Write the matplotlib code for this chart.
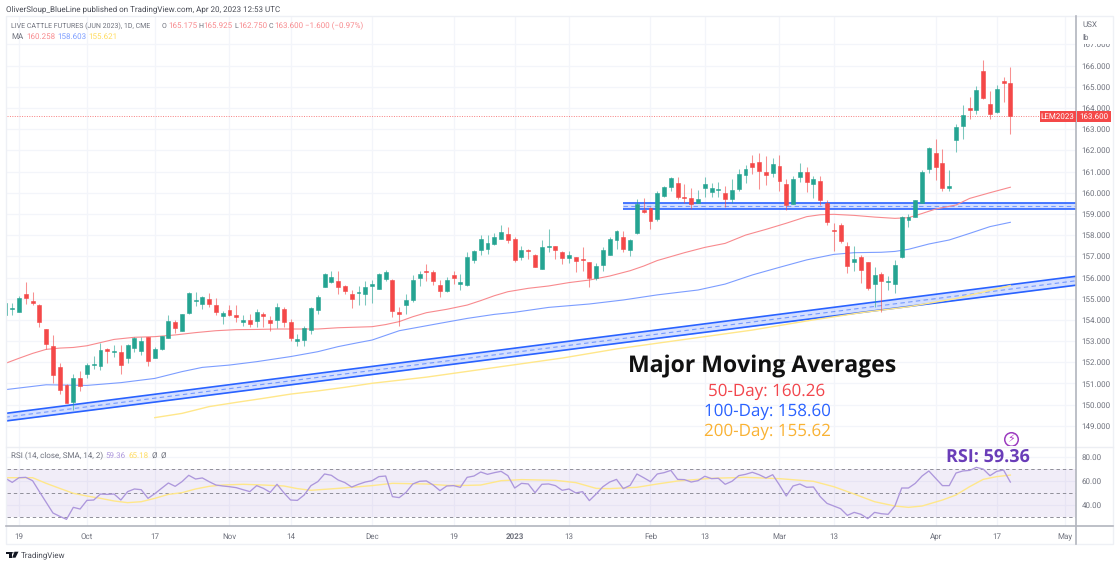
import matplotlib
matplotlib.use('Agg')
import matplotlib.pyplot as plt
import numpy as np
from matplotlib.patches import Polygon, Rectangle, Circle

W, H = 1120, 566

UP = '#25a492'
DOWN = '#f44848'
BLUE = '#2962ff'
GRID = '#f3f5fa'
AXIS = '#b2b5be'
MUTED = '#6f727d'
MA_RED = '#f88a8e'
MA_BLUE = '#7c9dff'
MA_YELLOW = '#ffe78a'
RSI_PURPLE = '#ad97dc'

# Daily candles, index 0 is 19 Sep 2022.
opens = [
    154.23, 154.53, 154.39, 155.22, 154.89, 154.69, 153.59, 152.78, 151.76, 150.91,
    150.14, 151.26, 151.46, 151.87, 151.84, 152.64, 152.47, 152.49, 152.20, 152.69,
    152.53, 153.19, 152.20, 152.61, 153.16, 153.88, 153.48, 154.31, 154.91, 154.77,
    154.99, 154.72, 154.18, 154.45, 154.23, 153.90, 153.98, 153.95, 154.29, 153.99,
    153.98, 154.50, 153.90, 153.00, 153.07, 153.54, 154.47, 155.57, 155.77, 155.85,
    155.60, 155.20, 155.27, 155.20, 155.60, 155.46, 155.91, 155.88, 154.36, 154.72,
    154.94, 155.98, 156.32, 156.24, 155.63, 155.38, 156.10, 155.71, 155.63, 156.84,
    157.28, 157.35, 157.58, 157.83, 158.05, 157.80, 156.95, 157.28, 157.08, 156.42,
    157.44, 157.49, 157.20, 156.91, 156.95, 156.89, 156.72, 155.99, 156.57, 157.08,
    157.77, 157.90, 157.31, 158.08, 159.18, 159.30, 158.74, 159.86, 160.28, 160.47,
    159.78, 159.75, 159.51, 160.22, 160.02, 160.14, 159.97, 159.70, 160.16, 160.84,
    161.40, 161.45, 160.98, 160.93, 161.26, 160.40, 159.47, 160.76, 160.98, 160.43,
    160.55, 159.50, 158.26, 158.46, 157.49, 156.75, 156.98, 156.73, 155.71, 156.15,
    155.77, 155.71, 156.95, 158.71, 158.87, 159.53, 161.13, 161.85, 161.38, 160.23,
    162.48, 163.16, 163.98, 163.91, 165.74, 164.17, 163.80, 165.25, 165.175,
]
highs = [
    154.78, 154.81, 155.14, 155.77, 155.32, 154.75, 153.59, 153.29, 151.98, 150.98,
    151.43, 151.57, 151.95, 152.30, 152.89, 152.69, 152.83, 152.82, 152.86, 153.21,
    153.18, 153.21, 152.74, 153.26, 154.23, 153.99, 154.26, 155.33, 155.32, 155.13,
    155.28, 155.03, 154.43, 154.69, 154.72, 154.25, 154.26, 154.50, 154.39, 154.18,
    154.78, 154.59, 154.03, 153.33, 153.71, 154.61, 155.17, 156.20, 156.32, 156.29,
    155.65, 155.41, 155.60, 155.83, 155.88, 156.23, 156.35, 155.95, 154.61, 155.22,
    156.13, 156.29, 156.62, 156.35, 155.88, 156.04, 156.32, 156.17, 157.20, 157.30,
    157.99, 157.99, 158.08, 158.46, 158.40, 157.90, 157.50, 157.33, 157.11, 157.77,
    158.30, 157.50, 157.27, 157.24, 156.97, 157.42, 156.75, 156.67, 157.42, 157.93,
    158.24, 158.19, 157.80, 159.69, 159.74, 159.34, 160.07, 160.33, 160.72, 160.74,
    160.40, 160.21, 160.13, 160.76, 160.44, 160.49, 160.32, 160.65, 161.13, 161.31,
    161.78, 161.86, 161.73, 161.62, 161.78, 160.63, 160.79, 161.40, 161.20, 160.79,
    160.80, 159.66, 158.55, 158.55, 157.66, 157.49, 157.06, 156.75, 156.51, 156.24,
    156.07, 156.82, 158.90, 158.99, 159.65, 161.07, 162.17, 162.53, 162.04, 161.07,
    163.22, 164.12, 164.50, 165.03, 166.26, 164.81, 165.06, 165.44, 165.925,
]
lows = [
    154.23, 154.25, 154.36, 154.75, 154.69, 153.66, 152.61, 151.02, 150.52, 150.06,
    149.75, 150.65, 151.26, 151.67, 151.64, 151.98, 152.26, 151.43, 151.95, 152.49,
    152.34, 151.84, 152.20, 152.56, 153.13, 153.37, 153.48, 154.28, 154.66, 154.53,
    154.62, 154.23, 153.81, 154.18, 153.90, 153.73, 153.68, 153.68, 153.65, 153.49,
    153.60, 153.68, 153.02, 152.77, 152.77, 153.33, 154.28, 155.57, 155.72, 155.22,
    155.22, 154.58, 154.72, 154.72, 154.81, 155.44, 155.85, 154.15, 153.73, 154.30,
    154.83, 155.60, 155.85, 155.66, 155.08, 155.32, 155.69, 155.43, 155.60, 156.70,
    157.08, 157.13, 157.55, 157.80, 157.61, 156.75, 156.81, 156.87, 156.48, 156.40,
    157.19, 156.86, 156.64, 156.67, 156.24, 156.32, 155.57, 155.90, 156.32, 157.08,
    157.36, 157.22, 157.02, 158.07, 159.03, 158.27, 158.68, 159.81, 160.10, 159.69,
    159.50, 159.25, 159.50, 159.81, 159.78, 159.78, 159.31, 159.50, 160.10, 160.47,
    160.88, 160.19, 160.35, 160.76, 160.10, 159.18, 159.47, 160.50, 160.05, 159.75,
    159.42, 158.48, 157.25, 157.61, 156.20, 156.29, 155.72, 155.41, 154.62, 154.39,
    155.41, 155.28, 156.93, 158.40, 158.84, 159.50, 160.91, 160.60, 160.09, 160.09,
    161.92, 162.55, 163.46, 163.71, 164.40, 163.46, 163.77, 164.26, 162.75,
]
closes = [
    154.78, 154.56, 155.03, 155.05, 154.81, 153.92, 152.88, 151.38, 150.69, 150.06,
    151.24, 150.90, 151.89, 151.90, 152.56, 152.53, 152.55, 151.87, 152.82, 153.16,
    153.02, 152.06, 152.63, 153.22, 153.96, 153.63, 154.26, 155.28, 154.94, 155.08,
    154.73, 154.39, 154.34, 154.25, 154.15, 153.99, 153.81, 154.39, 154.17, 153.87,
    154.61, 153.90, 153.15, 153.08, 153.60, 154.58, 155.10, 156.16, 156.01, 155.57,
    155.38, 155.00, 155.30, 155.54, 155.68, 156.17, 156.24, 154.44, 154.30, 154.92,
    155.90, 156.17, 156.26, 155.85, 155.38, 155.90, 155.98, 155.80, 156.95, 157.27,
    157.83, 157.64, 157.91, 158.13, 157.79, 156.81, 157.31, 157.25, 156.51, 157.44,
    157.49, 157.28, 156.91, 157.05, 156.78, 156.84, 155.96, 156.54, 157.30, 157.83,
    158.19, 157.35, 157.77, 159.47, 159.11, 158.68, 159.97, 160.28, 160.69, 159.78,
    159.75, 159.48, 159.72, 160.41, 160.21, 160.17, 159.69, 160.13, 160.87, 161.10,
    161.23, 161.04, 160.85, 161.35, 160.57, 159.42, 160.65, 160.98, 160.52, 160.63,
    159.66, 158.63, 158.18, 157.72, 156.54, 156.87, 156.35, 155.49, 156.13, 155.85,
    155.83, 156.57, 158.87, 158.87, 159.64, 160.97, 162.11, 161.21, 160.20, 160.30,
    163.08, 163.68, 163.91, 164.83, 164.45, 163.71, 164.87, 165.19, 163.60,
]

ma50_idx = [-2, 0, 2, 4, 6, 8, 10, 12, 14, 17, 20, 23, 26, 29, 32, 35, 38, 41, 44, 47, 50, 52, 54, 56, 58, 60,
            63, 66, 68, 70, 72, 75, 78, 81, 84, 87, 90, 92, 94, 98, 101, 104, 107, 110, 113, 116, 118, 120, 123,
            126, 129, 131, 133, 135, 138, 140, 143, 146]
ma50 = [151.95, 152.19, 152.42, 152.61, 152.67, 152.70, 152.78, 152.93, 153.08, 153.18, 153.21, 153.29, 153.40,
        153.49, 153.54, 153.55, 153.57, 153.57, 153.57, 153.63, 153.66, 153.68, 153.78, 153.92, 154.15, 154.34,
        154.50, 154.70, 154.91, 155.14, 155.33, 155.49, 155.60, 155.76, 155.88, 156.07, 156.32, 156.54, 156.80,
        157.17, 157.42, 157.61, 158.00, 158.27, 158.56, 158.87, 158.96, 158.98, 158.93, 158.85, 158.79, 158.82,
        159.02, 159.23, 159.42, 159.73, 160.00, 160.258]

ma100_idx = [-2, 4, 10, 15, 20, 24, 27, 31, 35, 40, 44, 47, 50, 52, 56, 62, 66, 70, 73, 78, 84, 89, 94, 100, 104,
             108, 112, 116, 120, 123, 127, 129, 131, 134, 137, 140, 143, 146]
ma100 = [150.71, 150.94, 150.91, 151.04, 151.24, 151.56, 151.76, 151.87, 152.03, 152.27, 152.50, 152.74, 152.93,
         153.05, 153.49, 153.84, 154.07, 154.26, 154.36, 154.59, 154.75, 154.94, 155.18, 155.41, 155.69, 156.12,
         156.48, 156.83, 157.09, 157.17, 157.19, 157.23, 157.33, 157.58, 157.77, 158.08, 158.40, 158.603]

ma200_idx = [20, 24, 28, 32, 36, 40, 44, 48, 52, 60, 70, 80, 88, 94, 108, 116, 124, 131, 138, 146]
ma200 = [149.39, 149.59, 149.91, 150.11, 150.30, 150.50, 150.65, 150.82, 151.01, 151.30, 151.75, 152.20, 152.63,
         152.90, 153.52, 153.95, 154.34, 154.62, 155.01, 155.621]

rsi = [
    62.5, 59.1, 63.0, 63.3, 60.5, 51.4, 42.5, 33.6, 30.8, 28.3, 38.3, 36.9, 44.1, 44.4, 49.4, 49.1, 49.4, 44.4,
    51.4, 53.6, 53.0, 45.8, 49.7, 54.1, 58.6, 55.8, 59.7, 65.0, 61.9, 62.8, 59.7, 56.9, 56.1, 55.5, 54.7, 53.0,
    51.4, 56.4, 54.1, 50.8, 57.5, 50.5, 44.4, 44.1, 48.6, 56.4, 59.7, 66.1, 65.0, 61.1, 58.9, 55.2, 57.5, 59.4,
    60.5, 63.9, 64.4, 47.2, 46.4, 50.8, 57.8, 60.0, 60.3, 56.9, 52.2, 56.1, 56.4, 55.0, 63.3, 64.4, 67.75, 65.8,
    67.2, 68.3, 64.7, 54.4, 58.3, 57.8, 50.5, 57.5, 57.8, 56.4, 52.5, 53.6, 50.3, 51.4, 43.9, 49.4, 55.5, 59.4,
    61.6, 53.9, 56.6, 66.1, 63.0, 59.7, 66.1, 67.2, 69.1, 61.6, 61.4, 59.4, 60.5, 64.2, 62.2, 62.5, 57.5, 60.0,
    64.7, 65.8, 67.5, 65.5, 62.75, 65.5, 56.9, 47.75, 56.1, 57.75, 55.0, 55.25, 47.2, 41.6, 39.4, 37.2, 31.6, 34.1,
    32.5, 28.9, 34.1, 33.0, 32.5, 39.4, 54.4, 54.4, 58.3, 64.4, 68.6, 62.5, 56.4, 56.4, 66.9, 68.6, 69.1, 71.6,
    70.2, 64.7, 68.3, 69.4, 59.36,
]
rsi_ma_idx = [-2, 0, 2, 4, 6, 8, 10, 12, 14, 16, 18, 20, 22, 24, 26, 28, 30, 33, 36, 39, 41, 43, 45, 47, 49, 52,
              55, 60, 63, 66, 68, 71, 74, 79, 82, 85, 87, 91, 94, 97, 102, 107, 112, 117, 120, 123, 126, 129, 131,
              133, 136, 138, 140, 142, 144, 146]
rsi_ma = [63.0, 63.0, 63.0, 58.3, 54.1, 50.0, 47.75, 45.8, 43.6, 42.2, 43.0, 45.8, 49.1, 50.5, 53.6, 55.8, 56.9,
          57.5, 56.9, 56.1, 53.9, 52.5, 53.3, 54.1, 55.0, 56.4, 58.3, 57.75, 56.6, 56.6, 56.9, 60.5, 61.4, 60.8,
          58.9, 54.1, 53.9, 55.0, 57.75, 60.25, 62.5, 63.3, 62.2, 60.0, 55.5, 49.4, 43.0, 39.4, 38.3, 39.4, 44.4,
          48.6, 55.5, 61.6, 63.9, 65.18]

# Drawn trend channel and support zone: bar index, then upper and lower price.
channel_idx = [-2, 156]
channel_top = [149.59, 156.07]
channel_bottom = [149.23, 155.65]
zone_idx = [89.0, 156]
zone_top = [159.50, 159.50]
zone_bottom = [159.22, 159.22]

price_ticks = list(range(149, 168))
rsi_ticks = [40, 60, 80]
time_idx = [0, 10, 20, 31, 40, 52, 64, 73, 81, 93, 101, 112, 120, 135, 144, 154]
time_labels = ['19', 'Oct', '17', 'Nov', '14', 'Dec', '19', '2023', '13', 'Feb', '13', 'Mar', '13', 'Apr', '17', 'May']

plt.rcParams['font.family'] = ['Roboto', 'DejaVu Sans']
plt.rcParams['text.hinting'] = 'none'
plt.rcParams['text.hinting_factor'] = 1


def px_x(x):
    return x / W


def px_y(y):
    return 1 - y / H


def label(x, y, text, color=MUTED, size=5.5, **kw):
    kw.setdefault('va', 'center')
    return fig.text(px_x(x), px_y(y), text, color=color, fontsize=size, **kw)


fig = plt.figure(figsize=(W / 100, H / 100), dpi=100, facecolor='white')
left, right = 6.5, 1076
ax = fig.add_axes([px_x(left), px_y(446), (right - left) / W, 430 / H])
ax_rsi = fig.add_axes([px_x(left), px_y(526), (right - left) / W, 80 / H])

bar_idx = np.arange(-2, len(opens) - 2)
spacing = 6.79
xlim = ((left - 19) / spacing, (right - 19) / spacing)
ax.set_xlim(xlim)
ax_rsi.set_xlim(xlim)
ax.set_ylim(166 - (446 - 65.5) / 21.2, 166 + (65.5 - 16) / 21.2)
ax_rsi.set_ylim(60 - (526 - 481.3) / 1.2, 60 + (481.3 - 446) / 1.2)

for a in (ax, ax_rsi):
    a.grid(True, color=GRID, linewidth=0.9)
    a.set_axisbelow(True)
    a.set_xticks(time_idx)
    a.yaxis.tick_right()
    for side, spine in a.spines.items():
        spine.set_visible(False)

# Channels sit under the candles.
for idx, top, bottom in [(channel_idx, channel_top, channel_bottom), (zone_idx, zone_top, zone_bottom)]:
    ax.fill_between(idx, bottom, top, color=BLUE, alpha=0.2, linewidth=0, zorder=1)
    ax.plot(idx, top, color=BLUE, linewidth=1.2, zorder=1.2, solid_capstyle='butt')
    ax.plot(idx, bottom, color=BLUE, linewidth=1.2, zorder=1.2, solid_capstyle='butt')
    ax.plot(idx, (np.array(top) + np.array(bottom)) / 2, color=BLUE, alpha=0.55, linewidth=0.8,
            linestyle=(0, (4, 3)), zorder=1.2)

ax.plot(ma50_idx, ma50, color=MA_RED, linewidth=0.8, zorder=2)
ax.plot(ma100_idx, ma100, color=MA_BLUE, linewidth=0.8, zorder=2)
ax.plot(ma200_idx, ma200, color=MA_YELLOW, linewidth=1.0, zorder=2)

colors = [UP if c >= o else DOWN for o, c in zip(opens, closes)]
ax.vlines(bar_idx, lows, highs, colors=colors, linewidth=0.75, alpha=0.6, zorder=3)
body_low = np.minimum(opens, closes)
body_height = np.abs(np.array(opens) - np.array(closes))
ax.bar(bar_idx, body_height, bottom=body_low, width=0.58, color=colors, edgecolor=colors, linewidth=0.4, zorder=4)

# Last price line.
ax.axhline(closes[-1], color=DOWN, linewidth=0.7, linestyle=(0, (1, 1.5)), alpha=0.7, zorder=1.5)

ax.set_yticks(price_ticks)
ax.set_yticklabels([f'{v:.3f}' for v in price_ticks])
ax.tick_params(axis='y', length=0, pad=4, labelsize=5.6, labelcolor=MUTED)
ax.tick_params(axis='x', length=0, labelbottom=False)

ax_rsi.axhspan(30, 70, color='#7e57c2', alpha=0.1, linewidth=0, zorder=0.6)
for level in [30, 50, 70]:
    ax_rsi.axhline(level, color='#8f8f99', linewidth=0.7, linestyle=(0, (3.5, 3)), zorder=1)
ax_rsi.plot(bar_idx, rsi, color=RSI_PURPLE, linewidth=0.95, zorder=3)
ax_rsi.plot(rsi_ma_idx, rsi_ma, color=MA_YELLOW, linewidth=1.0, zorder=2)
ax_rsi.set_yticks(rsi_ticks)
ax_rsi.set_yticklabels([f'{v:.2f}' for v in rsi_ticks])
ax_rsi.tick_params(axis='y', length=0, pad=4, labelsize=5.6, labelcolor=MUTED)
ax_rsi.set_xticklabels(time_labels)
ax_rsi.tick_params(axis='x', length=0, pad=5, labelsize=5.6, labelcolor=MUTED)
for tick, text in zip(ax_rsi.get_xticklabels(), time_labels):
    if text == '2023':
        tick.set_fontweight('bold')

# Frame, axis lines and the pane separator.
fig.add_artist(Rectangle((px_x(6), px_y(544)), (1113 - 6) / W, (544 - 16) / H, fill=False, edgecolor='#eef0f5', linewidth=1.0,
                         transform=fig.transFigure))
fig.add_artist(plt.Line2D([px_x(6), px_x(1113)], [px_y(446.5)] * 2, color='#eceef3', linewidth=1.0))
fig.add_artist(plt.Line2D([px_x(6), px_x(1113)], [px_y(526)] * 2, color=AXIS, linewidth=1.2))
fig.add_artist(plt.Line2D([px_x(1076)] * 2, [px_y(16), px_y(544)], color=AXIS, linewidth=1.2))

# Header and pane legends.
label(6, 9, 'OliverSloup_BlueLine published on TradingView.com, Apr 20, 2023 12:53 UTC', color='#4a4d57', size=5.7)
label(11, 26, 'LIVE CATTLE FUTURES (JUN 2023), 1D, CME', size=5.2)
for x, text in [(162, 'O'), (198, 'H'), (234.5, 'L'), (269, 'C')]:
    label(x, 26, text, size=5.2)
for x, text in [(168, '165.175'), (203, '165.925'), (238.7, '162.750'), (274, '163.600'), (305, '−1.600 (−0.97%)')]:
    label(x, 26, text, color=MA_RED)
label(11, 37, 'MA')
label(26, 37, '160.258', color=MA_RED)
label(57, 37, '158.603', color=MA_BLUE)
label(88, 37, '155.621', color='#ffdc5e')
label(11, 456, 'RSI (14, close, SMA, 14, 2)')
label(105, 456, '59.36', color=RSI_PURPLE)
label(128, 456, '65.18', color='#ffdc5e')
label(152, 456, 'Ø')
label(161, 456, 'Ø')

# Unit labels hide the top half of the 167.000 tick.
fig.add_artist(Rectangle((px_x(1078), px_y(43.5)), 34 / W, 24 / H, facecolor='white', edgecolor='none', zorder=2,
                         transform=fig.transFigure))
label(1082, 25, 'USX', zorder=3)
label(1082, 38, 'lb', zorder=3)

# Last price tags.
fig.add_artist(Rectangle((px_x(1040), px_y(122)), 35.5 / W, 10.5 / H, facecolor=DOWN, edgecolor='none', zorder=2,
                         transform=fig.transFigure))
fig.add_artist(Rectangle((px_x(1076.8), px_y(122)), 34.5 / W, 10.5 / H, facecolor=DOWN, edgecolor='none', zorder=2,
                         transform=fig.transFigure))
label(1057.5, 116.8, 'LEM2023', color='white', size=5.5, ha='center', zorder=3)
label(1094, 116.8, '163.600', color='white', size=5.6, ha='center', zorder=3)

# Annotation block.
anno_font = ['Open Sans', 'DejaVu Sans']
label(762, 366, 'Major Moving Averages', color='#111111', size=16.5, ha='center', weight='bold', family=anno_font)
label(767, 391.5, '50-Day: 160.26', color='#f2454c', size=12.3, ha='center', family=anno_font)
label(767, 411.5, '100-Day: 158.60', color=BLUE, size=12.3, ha='center', family=anno_font)
label(767, 432, '200-Day: 155.62', color='#f9b233', size=12.3, ha='center', family=anno_font)
label(987.5, 457, 'RSI: 59.36', color='#6a3db8', size=13, ha='center', weight='bold', family=anno_font)

# Bolt badge above the RSI label.
ax.scatter([(1011 - 19) / spacing], [166 - (439 - 65.5) / 21.2], s=95, facecolors='white', edgecolors='#9c3cc0',
           linewidths=1.1, clip_on=False, zorder=6)
label(1011, 439, '⚡', color='#b03cc8', size=8, ha='center', family=['DejaVu Sans'], zorder=3)

# Footer logo.
fig.add_artist(Polygon([(px_x(a), px_y(b)) for a, b in [(6, 551.7), (11.5, 551.7), (11.5, 557.7), (8.8, 557.7), (8.8, 553.8), (6, 553.8)]],
                       closed=True, facecolor='#131722', edgecolor='none', transform=fig.transFigure))
fig.add_artist(Polygon([(px_x(a), px_y(b)) for a, b in [(14.5, 551.7), (18.5, 551.7), (15.5, 557.7), (12.2, 557.7)]],
                       closed=True, facecolor='#131722', edgecolor='none', transform=fig.transFigure))
fig.add_artist(Circle((px_x(12.6), px_y(552.8)), 1.1 / W, facecolor='#131722', edgecolor='none', transform=fig.transFigure))
label(21, 555, 'TradingView', color='#4a4d57', size=5.8)

fig.savefig('out.png', dpi=100, facecolor='white')
